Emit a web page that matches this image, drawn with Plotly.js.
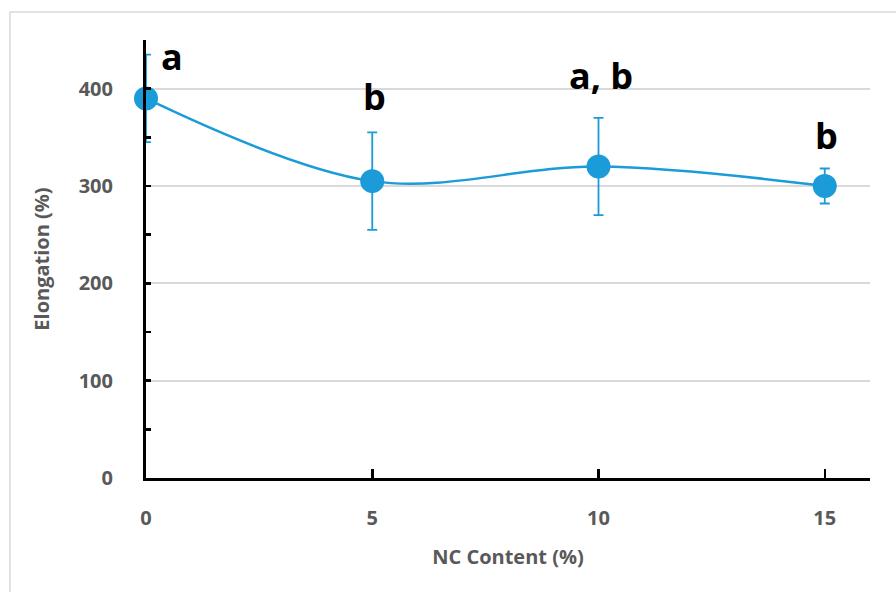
<!DOCTYPE html>
<html>
<head>
<meta charset="utf-8">
<script src="https://cdn.plot.ly/plotly-3.0.1.min.js"></script>
<style>html,body{margin:0;padding:0;background:#fff;}#chart{width:896px;height:592px;}</style>
</head>
<body>
<div id="chart"></div>
<script>
const ncContent = [0, 5, 10, 15];
const elongation = [390, 305, 320, 300];
const elongationErr = [45, 50, 50, 18];
const groupLetters = ['a', 'b', 'a, b', 'b'];
const labelShiftX = [26, 2, 2, 2];
const labelShiftY = [-28, 9, 16, 6];

const blue = '#1b9bd7';

const trace = {
  x: ncContent,
  y: elongation,
  type: 'scatter',
  mode: 'lines+markers',
  line: {color: blue, width: 2.5, shape: 'spline', smoothing: 1},
  marker: {color: blue, size: 24},
  error_y: {type: 'data', array: elongationErr, visible: true, color: blue, thickness: 1.8, width: 5},
  cliponaxis: false,
  hoverinfo: 'none'
};

const annotations = ncContent.map((x, i) => ({
  x: x, y: elongation[i] + elongationErr[i],
  xref: 'x', yref: 'y',
  text: '<b>' + groupLetters[i] + '</b>',
  showarrow: false,
  yanchor: 'bottom',
  xanchor: 'center',
  xshift: labelShiftX[i],
  yshift: labelShiftY[i],
  font: {family: 'Open Sans, Liberation Sans, sans-serif', size: 36, color: '#000'}
}));

const layout = {
  width: 896, height: 592,
  margin: {l: 146, r: 26, t: 40, b: 114},
  paper_bgcolor: '#fff', plot_bgcolor: '#fff',
  showlegend: false,
  xaxis: {
    range: [0, 16],
    tickvals: ncContent,
    ticktext: ncContent.map(String),
    ticks: 'inside', ticklen: 9, tickwidth: 2.5, tickcolor: '#000',
    showline: true, linecolor: '#000', linewidth: 3,
    showgrid: false, zeroline: false,
    tickfont: {family: 'Open Sans, sans-serif', size: 20, color: '#595959', weight: 'bold'},
    ticklabelstandoff: 20,
    title: {text: '<b>NC Content (%)</b>', font: {family: 'Open Sans, sans-serif', size: 20, color: '#595959'}, standoff: 20}
  },
  yaxis: {
    range: [0, 450],
    tick0: 0, dtick: 100,
    ticks: 'inside', ticklen: 5, tickwidth: 2.5, tickcolor: '#000',
    minor: {dtick: 50, ticks: 'inside', ticklen: 5, tickwidth: 2.5, tickcolor: '#000', showgrid: false},
    showline: true, linecolor: '#000', linewidth: 3,
    showgrid: true, gridcolor: '#d9d9d9', gridwidth: 2,
    zeroline: false,
    tickfont: {family: 'Open Sans, sans-serif', size: 20, color: '#595959', weight: 'bold'},
    ticklabelstandoff: 26,
    title: {text: '<b>Elongation (%)</b>', font: {family: 'Open Sans, sans-serif', size: 20, color: '#595959'}, standoff: 24}
  },
  annotations: annotations,
  shapes: [{
    type: 'rect', xref: 'paper', yref: 'paper',
    x0: (10 - 146) / 724, x1: (905 - 146) / 724,
    y0: (478 - 600) / 438, y1: (478 - 12) / 438,
    line: {color: '#d9d9d9', width: 1.5}, fillcolor: 'rgba(0,0,0,0)', layer: 'below'
  }]
};

Plotly.newPlot('chart', [trace], layout, {displayModeBar: false, staticPlot: true});
</script>
</body>
</html>
